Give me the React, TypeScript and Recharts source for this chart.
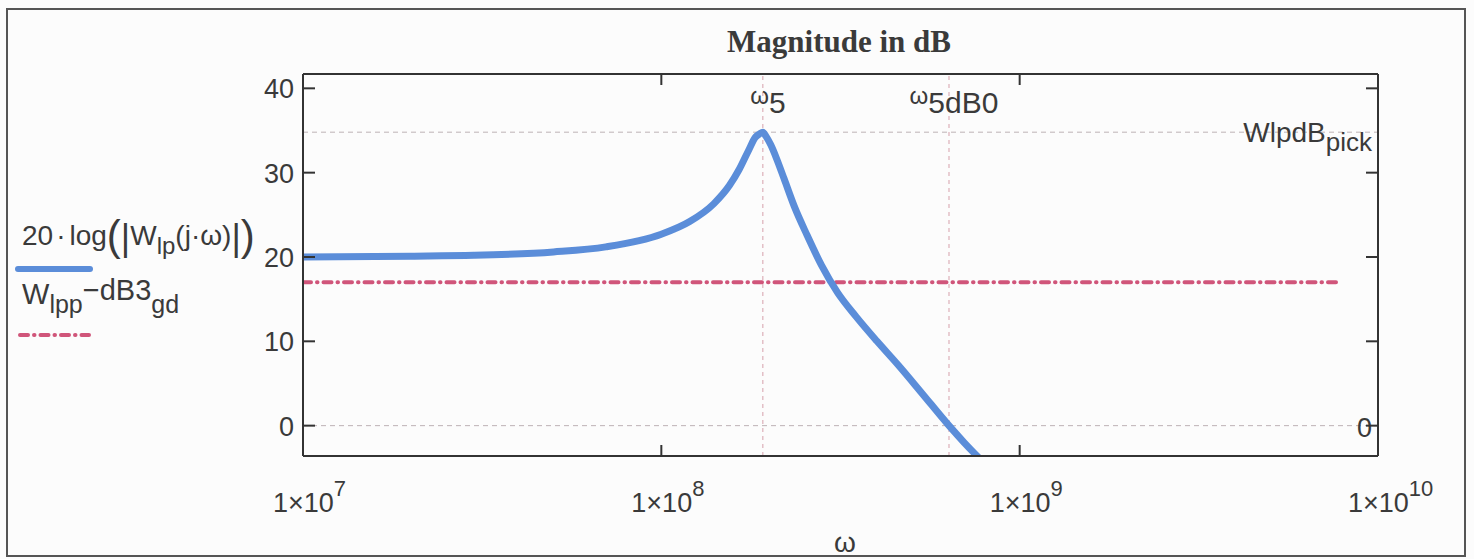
import React from 'react'
import { LineChart, Line, XAxis, YAxis, ReferenceLine } from 'recharts'

// omega (rad/s) and 20*log(|Wlp(j*omega)|)
const omega = [
  1e7, 2e7, 3e7, 5e7, 7e7, 1e8, 1.2e8, 1.4e8, 1.55e8, 1.65e8, 1.75e8, 1.83e8, 1.88e8, 1.92e8,
  1.96e8, 2.02e8, 2.1e8, 2.2e8, 2.35e8, 2.55e8, 2.8e8, 3.1e8, 3.5e8, 4e8, 4.6e8, 5.3e8, 6.35e8,
  7e8, 8.2e8,
]
const wlpDb = [
  20.0, 20.1, 20.2, 20.6, 21.2, 22.7, 24.2, 26.3, 28.5, 30.4, 32.6, 34.2, 34.6, 34.8,
  34.3, 33.3, 31.6, 29.3, 26.0, 22.6, 19.0, 15.8, 12.9, 10.0, 7.1, 4.0, 0.0,
  -2.0, -5.0,
]
// Wlpp - dB3gd band line
const bandOmega = [1e7, 7.7e9]
const bandDb = [17, 17]

const xTicks = [1e7, 1e8, 1e9, 1e10]
const yTicks = [0, 10, 20, 30, 40]

const omega5 = 1.92e8
const omega5dB0 = 6.35e8
const wlpdBPick = 34.8

const curveData = omega.map((w, i) => ({ w, db: wlpDb[i] }))
const bandData = bandOmega.map((w, i) => ({ w, band: bandDb[i] }))

const FONT = '"Liberation Sans", Arial, sans-serif'
const INK = '#3a3a3a'
const AXIS = '#333'
const BLUE = '#5b8dd9'
const RED = '#d0557a'
const DASHDOT = '8 6 0.5 6'

const isInner = (v: number) => v !== xTicks[0] && v !== xTicks[xTicks.length - 1]

function LeftTick({ x, y, payload }: any) {
  return (
    <g>
      <line x1={x} y1={y} x2={x + 12} y2={y} stroke={AXIS} strokeWidth={2} />
      <text x={x - 9} y={y + 10} textAnchor="end" fontSize={27} fill={INK} fontFamily={FONT}>
        {payload.value}
      </text>
    </g>
  )
}

function RightTick({ x, y }: any) {
  return <line x1={x - 12} y1={y} x2={x} y2={y} stroke={AXIS} strokeWidth={2} />
}

function TopTick({ x, y, payload }: any) {
  if (!isInner(payload.value)) return <g />
  return <line x1={x} y1={y} x2={x} y2={y + 11} stroke={AXIS} strokeWidth={2} />
}

function BottomTick({ x, y, payload }: any) {
  const exp = Math.round(Math.log10(payload.value))
  return (
    <g>
      {isInner(payload.value) && <line x1={x} y1={y} x2={x} y2={y - 11} stroke={AXIS} strokeWidth={2} />}
      <text x={x - 30} y={y + 56} fontSize={27} fill={INK} fontFamily={FONT}>
        1×10
        <tspan dy={-16} fontSize={22}>{exp}</tspan>
      </text>
    </g>
  )
}

function OmegaLabel({ viewBox, sub }: any) {
  const { x, y } = viewBox
  return (
    <text x={x + 5} y={y + 39} textAnchor="middle" fill={INK} fontFamily={FONT} fontSize={30}>
      <tspan fontSize={24} dy={-9}>ω</tspan>
      <tspan dy={9}>{sub}</tspan>
    </text>
  )
}

function PickLabel({ viewBox }: any) {
  const { x, y, width } = viewBox
  return (
    <text x={x + width - 6} y={y + 10} textAnchor="end" fill={INK} fontFamily={FONT} fontSize={28}>
      WlpdB
      <tspan fontSize={26} dy={9}>pick</tspan>
    </text>
  )
}

function ZeroLabel({ viewBox }: any) {
  const { x, y, width } = viewBox
  return (
    <text x={x + width - 6} y={y + 11} textAnchor="end" fill={INK} fontFamily={FONT} fontSize={27}>
      0
    </text>
  )
}

export default function App() {
  return (
    <div style={{ position: 'absolute', left: 0, top: 0, width: 1474, height: 559, background: '#fcfcfc' }}>
      <LineChart
        width={1474}
        height={559}
        margin={{ top: 73, right: 95, bottom: 102, left: 302 }}
        style={{ position: 'absolute', left: 0, top: 0 }}
      >
        <XAxis
          xAxisId="bottom"
          dataKey="w"
          type="number"
          scale="log"
          domain={[1e7, 1e10]}
          ticks={xTicks}
          allowDataOverflow
          height={1}
          tickSize={0}
          tickMargin={0}
          tickLine={false}
          axisLine={{ stroke: AXIS, strokeWidth: 2 }}
          tick={<BottomTick />}
          interval={0}
        />
        <XAxis
          xAxisId="top"
          orientation="top"
          dataKey="w"
          type="number"
          scale="log"
          domain={[1e7, 1e10]}
          ticks={xTicks}
          allowDataOverflow
          height={1}
          tickSize={0}
          tickMargin={0}
          tickLine={false}
          axisLine={{ stroke: AXIS, strokeWidth: 2 }}
          tick={<TopTick />}
          interval={0}
        />
        <YAxis
          yAxisId="left"
          type="number"
          domain={[-3.6, 41.7]}
          ticks={yTicks}
          allowDataOverflow
          width={1}
          tickSize={0}
          tickMargin={0}
          tickLine={false}
          axisLine={{ stroke: AXIS, strokeWidth: 2 }}
          tick={<LeftTick />}
          interval={0}
        />
        <YAxis
          yAxisId="right"
          orientation="right"
          type="number"
          domain={[-3.6, 41.7]}
          ticks={yTicks}
          allowDataOverflow
          width={1}
          tickSize={0}
          tickMargin={0}
          tickLine={false}
          axisLine={{ stroke: AXIS, strokeWidth: 2 }}
          tick={<RightTick />}
          interval={0}
        />
        <ReferenceLine xAxisId="bottom" yAxisId="left" y={wlpdBPick} stroke="#bdb2b5" strokeDasharray="5 4" strokeWidth={1} label={<PickLabel />} />
        <ReferenceLine xAxisId="bottom" yAxisId="left" y={0} stroke="#bdb2b5" strokeDasharray="5 4" strokeWidth={1} label={<ZeroLabel />} />
        <ReferenceLine xAxisId="bottom" yAxisId="left" x={omega5} stroke="#d6a0ab" strokeDasharray="4 4" strokeWidth={1} label={<OmegaLabel sub="5" />} />
        <ReferenceLine xAxisId="bottom" yAxisId="left" x={omega5dB0} stroke="#d6a0ab" strokeDasharray="4 4" strokeWidth={1} label={<OmegaLabel sub="5dB0" />} />
        <Line
          xAxisId="bottom"
          yAxisId="left"
          data={bandData}
          dataKey="band"
          type="linear"
          stroke={RED}
          strokeWidth={4}
          strokeDasharray={DASHDOT}
          strokeLinecap="round"
          dot={false}
          isAnimationActive={false}
        />
        <Line
          xAxisId="bottom"
          yAxisId="left"
          data={curveData}
          dataKey="db"
          type="monotone"
          stroke={BLUE}
          strokeWidth={7}
          strokeLinecap="round"
          dot={false}
          isAnimationActive={false}
        />
      </LineChart>
      <svg width={1474} height={559} style={{ position: 'absolute', left: 0, top: 0, pointerEvents: 'none' }}>
        <rect x={7} y={9} width={1458} height={547} fill="none" stroke="#555" strokeWidth={2} />
        <text x={839} y={52} textAnchor="middle" fontFamily='"Liberation Serif", "Times New Roman", serif' fontWeight="bold" fontSize={31} fill={INK}>
          Magnitude in dB
        </text>
        <text x={845} y={552} textAnchor="middle" fontFamily={FONT} fontSize={28} fill={INK}>ω</text>
        <text x={22} y={245} fontFamily={FONT} fontSize={28} fill={INK}>
          20<tspan dx={3}>·</tspan><tspan dx={4}>log</tspan>
          <tspan fontSize={42} dy={5}>(</tspan>
          <tspan fontSize={36}>|</tspan>
          <tspan dy={-5}>W</tspan>
          <tspan fontSize={24} dy={9}>lp</tspan>
          <tspan dy={-9}>(j·ω)</tspan>
          <tspan fontSize={36} dy={5}>|</tspan>
          <tspan fontSize={42}>)</tspan>
        </text>
        <line x1={18} y1={269} x2={90} y2={269} stroke={BLUE} strokeWidth={6} strokeLinecap="round" />
        <text x={22} y={304} fontFamily={FONT} fontSize={29} fill={INK}>
          W<tspan fontSize={25} dy={9}>lpp</tspan>
          <tspan dy={-13}>−dB3</tspan>
          <tspan fontSize={25} dy={13}>gd</tspan>
        </text>
        <line x1={20} y1={335} x2={89} y2={335} stroke={RED} strokeWidth={4} strokeDasharray={DASHDOT} strokeLinecap="round" />
      </svg>
    </div>
  )
}
